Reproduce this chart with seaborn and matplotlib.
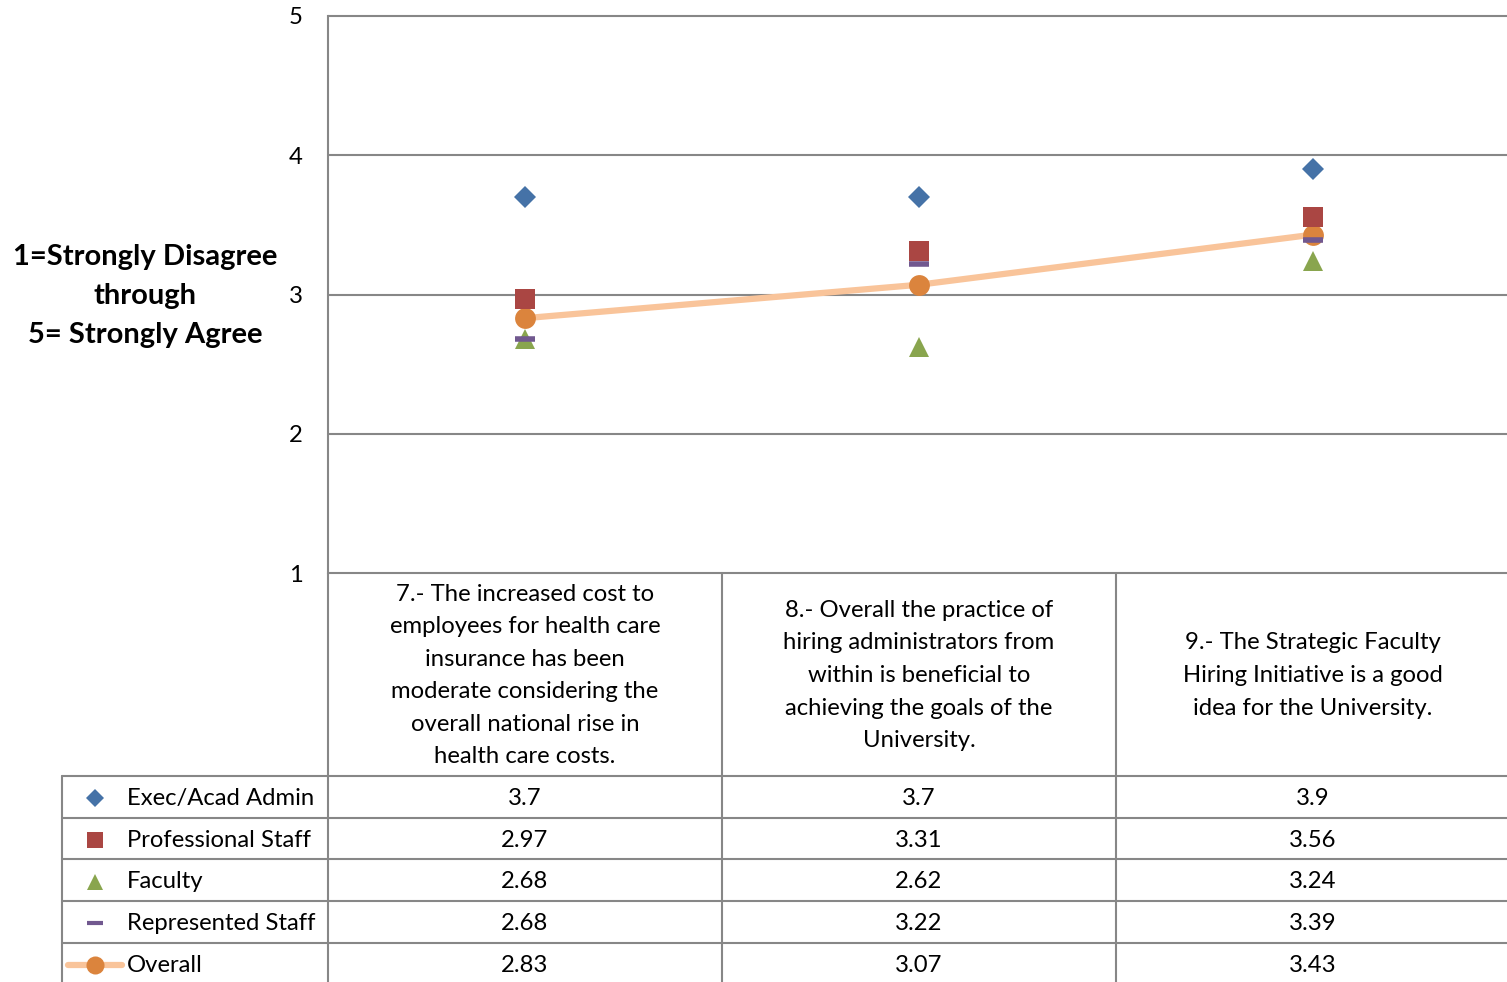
import numpy as np
import pandas as pd
import matplotlib
matplotlib.use("Agg")
import matplotlib.pyplot as plt
import seaborn as sns

# Survey results (mean agreement on a 1-5 scale)
questions = [
    "7.- The increased cost to\nemployees for health care\ninsurance has been\nmoderate considering the\noverall national rise in\nhealth care costs.",
    "8.- Overall the practice of\nhiring administrators from\nwithin is beneficial to\nachieving the goals of the\nUniversity.",
    "9.- The Strategic Faculty\nHiring Initiative is a good\nidea for the University.",
]
groups = ["Exec/Acad Admin", "Professional Staff", "Faculty", "Represented Staff", "Overall"]
exec_admin = [3.7, 3.7, 3.9]
professional = [2.97, 3.31, 3.56]
faculty = [2.68, 2.62, 3.24]
represented = [2.68, 3.22, 3.39]
overall = [2.83, 3.07, 3.43]
y_ticks = [1, 2, 3, 4, 5]
y_title = "1=Strongly Disagree\nthrough\n5= Strongly Agree"

series = [exec_admin, professional, faculty, represented, overall]
rows = []
for g, vals in zip(groups, series):
    for i, v in enumerate(vals):
        rows.append({"group": g, "pos": i, "score": v})
df = pd.DataFrame(rows)

sns.set_theme(style="white")
plt.rcParams["font.family"] = ["Lato", "DejaVu Sans"]

W, H = 1507, 982
fig = plt.figure(figsize=(W / 100, H / 100), dpi=100)

FS = 17.2
GRID = "#878787"
styles = {
    "Exec/Acad Admin": dict(marker="D", color="#4572A7", ms=11.5, mew=0),
    "Professional Staff": dict(marker="s", color="#AA4643", ms=14, mew=0),
    "Faculty": dict(marker="^", color="#89A54E", ms=15, mew=0),
    "Represented Staff": dict(marker="_", color="#71588F", ms=14, mew=4),
    "Overall": dict(marker="o", color="#DB843D", ms=15, mew=0),
}
LINE_OVERALL = "#F9C49A"

# --- main plot area ---
left_px, right_px, top_px, bot_px = 328, 1510, 16, 573
ax = fig.add_axes([left_px / W, (H - bot_px) / H, (right_px - left_px) / W, (bot_px - top_px) / H])
ax.set_xlim(-0.5, len(questions) - 0.5)
ax.set_ylim(1, 5)
ax.set_yticks(y_ticks)
ax.set_yticklabels([str(t) for t in y_ticks], fontsize=FS, color="black")
ax.set_xticks([])
ax.tick_params(axis="y", length=0, pad=23)
for lab in ax.get_yticklabels():
    lab.set_horizontalalignment("center")
for yv in y_ticks:
    ax.axhline(yv, color=GRID, lw=1.5, zorder=0, clip_on=False)
for s in ["top", "right", "bottom"]:
    ax.spines[s].set_visible(False)
ax.spines["left"].set_color(GRID)
ax.spines["left"].set_linewidth(1.5)

# Overall trend line drawn under the markers
sub = df[df.group == "Overall"]
sns.lineplot(data=sub, x="pos", y="score", ax=ax, color=LINE_OVERALL, lw=4.5,
             marker="o", markersize=styles["Overall"]["ms"], markerfacecolor=styles["Overall"]["color"],
             markeredgewidth=0, zorder=2, legend=False)
for g in groups[:-1]:
    st = styles[g]
    sub = df[df.group == g]
    sns.lineplot(data=sub, x="pos", y="score", ax=ax, linestyle="none", marker=st["marker"],
                 markersize=st["ms"], color=st["color"], markerfacecolor=st["color"],
                 markeredgecolor=st["color"], markeredgewidth=st["mew"], zorder=3, legend=False)
ax.set_xlabel("")
ax.set_ylabel("")

fig.text(145 / W, 1 - 296 / H, y_title, ha="center", va="center", fontsize=21,
         fontweight="bold", linespacing=1.6, color="black")

# --- data table below the plot ---
tab_left = 62
unit = (right_px - left_px) / len(questions)
tax = fig.add_axes([tab_left / W, 0, (right_px - tab_left) / W, (H - bot_px) / H])
x0 = -0.5 - (left_px - tab_left) / unit
tax.set_xlim(x0, len(questions) - 0.5)
tax.set_ylim(H - bot_px, 0)
tax.axis("off")

header_h = 776 - bot_px
row_h = 41.7
n_rows = len(groups)
bottom_y = header_h + n_rows * row_h + 5

# vertical rules
for xv in np.arange(-0.5, len(questions) - 0.4, 1.0):
    tax.plot([xv, xv], [0, bottom_y], color=GRID, lw=1.5, clip_on=False)
tax.plot([x0, x0], [header_h, bottom_y], color=GRID, lw=1.5, clip_on=False)
# horizontal rules
for r in range(n_rows):
    yv = header_h + r * row_h
    tax.plot([x0, len(questions) - 0.5], [yv, yv], color=GRID, lw=1.5, clip_on=False)

# header cells
for i, q in enumerate(questions):
    tax.text(i, header_h / 2 + 1, q, ha="center", va="center", fontsize=FS, linespacing=1.68, color="black")

# legend column + values
key_x = x0 + (95 - tab_left) / unit
text_x = x0 + (127 - tab_left) / unit
for r, (g, vals) in enumerate(zip(groups, series)):
    yc = header_h + (r + 0.5) * row_h + 1.5
    st = styles[g]
    if g == "Overall":
        tax.plot([x0 + (68 - tab_left) / unit, x0 + (122 - tab_left) / unit], [yc, yc],
                 color=LINE_OVERALL, lw=4.5, solid_capstyle="round", clip_on=False)
        tax.plot([key_x], [yc], marker="o", ms=13, color=st["color"], mew=0, clip_on=False)
    else:
        key_ms = {"D": 9.5, "s": 12, "^": 12, "_": 12}[st["marker"]]
        tax.plot([key_x], [yc], marker=st["marker"], ms=key_ms, color=st["color"],
                 mec=st["color"], mew=(3 if st["marker"] == "_" else 0), linestyle="none", clip_on=False)
    tax.text(text_x, yc, g, ha="left", va="center", fontsize=FS, color="black")
    for i, v in enumerate(vals):
        tax.text(i, yc, f"{v:g}", ha="center", va="center", fontsize=FS, color="black")

fig.savefig("out.png", dpi=100)
